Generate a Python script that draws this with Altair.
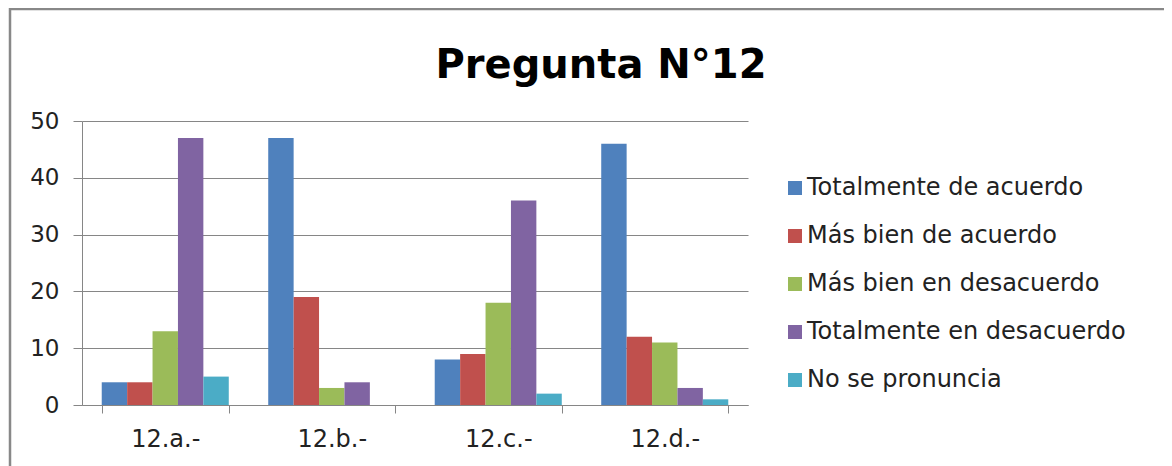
import altair as alt
import pandas as pd

categories = ["12.a.-", "12.b.-", "12.c.-", "12.d.-"]
series = ["Totalmente de acuerdo", "Más bien de acuerdo", "Más bien en desacuerdo",
          "Totalmente en desacuerdo", "No se pronuncia"]
colors = ["#4F81BD", "#C0504D", "#9BBB59", "#8064A2", "#4BACC6"]
totalmente_de_acuerdo = [4, 47, 8, 46]
mas_bien_de_acuerdo = [4, 19, 9, 12]
mas_bien_en_desacuerdo = [13, 3, 18, 11]
totalmente_en_desacuerdo = [47, 4, 36, 3]
no_se_pronuncia = [5, 0, 2, 1]
title_text = ["Pregunta N°12"]

vals = [totalmente_de_acuerdo, mas_bien_de_acuerdo, mas_bien_en_desacuerdo,
        totalmente_en_desacuerdo, no_se_pronuncia]
rows = []
for s, v in zip(series, vals):
    for c, x in zip(categories, v):
        rows.append({"cat": c, "serie": s, "valor": x})
df = pd.DataFrame(rows)

FONT = "DejaVu Sans"
W, H = 666, 284

bars = alt.Chart(df).mark_bar().encode(
    x=alt.X("cat:N", sort=categories, title=None,
            scale=alt.Scale(paddingInner=0.237, paddingOuter=0.1185),
            axis=alt.Axis(labelAngle=0, labelFontSize=24, labelColor="#222222",
                          labelFont=FONT, labelPadding=14, tickSize=8,
                          tickBand="extent", tickColor="#868686",
                          domainColor="#868686", grid=False)),
    xOffset=alt.XOffset("serie:N", sort=series, scale=alt.Scale(paddingInner=0, paddingOuter=0)),
    y=alt.Y("valor:Q", title=None,
            scale=alt.Scale(domain=[0, 50], nice=False),
            axis=alt.Axis(values=[0, 10, 20, 30, 40, 50], labelFontSize=23,
                          labelColor="#222222", labelFont=FONT, labelPadding=14,
                          tickSize=9, tickColor="#868686", domainColor="#868686",
                          gridColor="#868686", gridWidth=1.2)),
    color=alt.Color("serie:N", sort=series,
                    scale=alt.Scale(domain=series, range=colors),
                    legend=alt.Legend(title=None, orient="none", legendX=701, legendY=55,
                                      symbolType="square", symbolSize=196,
                                      symbolStrokeWidth=0, labelFontSize=24,
                                      labelFont=FONT, labelColor="#222222",
                                      rowPadding=24, labelOffset=0, labelLimit=400)),
)

frame_df = pd.DataFrame({"k": [0]})
frame = alt.Chart(frame_df).mark_rect(fill=None, stroke="#888888", strokeWidth=2.5, clip=False).encode(
    x=alt.value(-72), x2=alt.value(1200), y=alt.value(-112), y2=alt.value(500)
)

title_df = pd.DataFrame({"t": title_text})
title = alt.Chart(title_df).mark_text(
    font=FONT, fontSize=40, fontWeight="bold", color="#000000",
    align="center", baseline="alphabetic", clip=False
).encode(text="t:N", x=alt.value(519), y=alt.value(-43))

chart = alt.layer(frame, bars, title).properties(
    width=W, height=H,
    padding={"left": 74, "top": 113, "right": 416, "bottom": 61},
    autosize=alt.AutoSizeParams(type="none"),
).configure_view(stroke=None).configure_axis(labelFont=FONT)

chart.save("out.html", embed_options={"renderer": "svg", "actions": False})
